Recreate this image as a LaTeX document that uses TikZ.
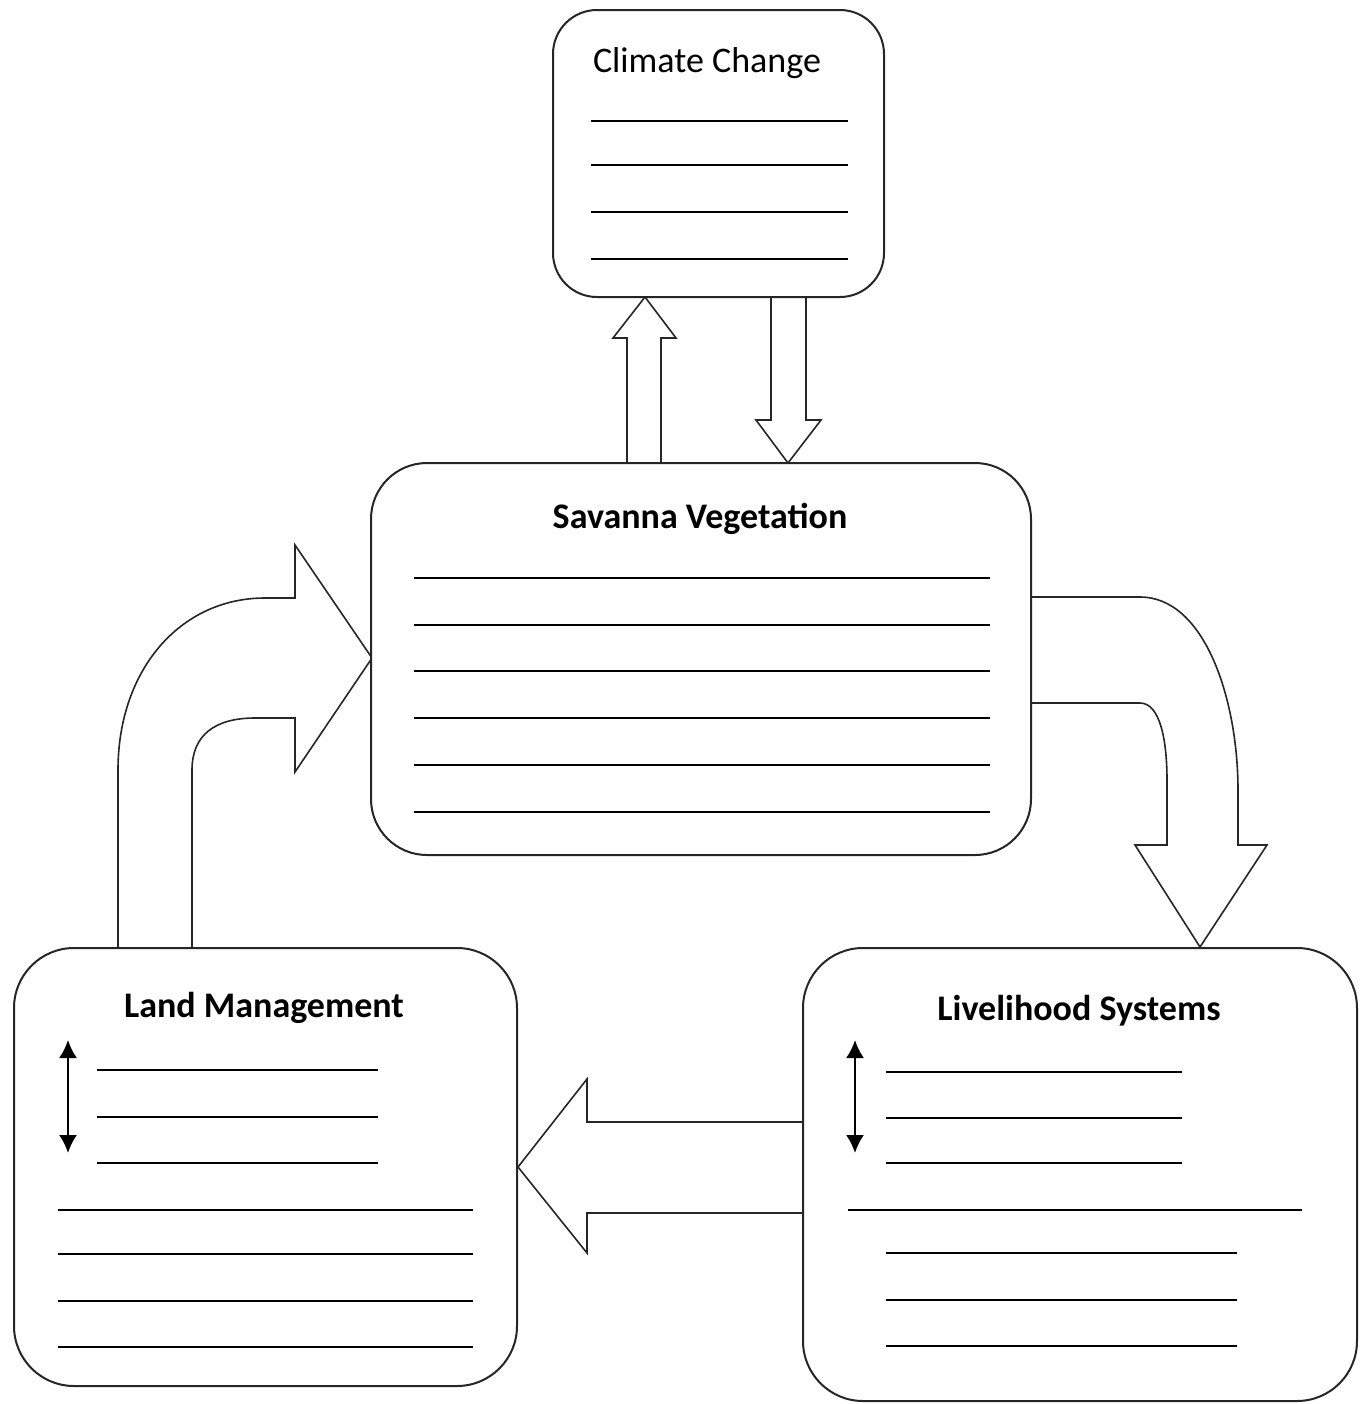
\documentclass[tikz,border=0pt]{standalone}
\usepackage{fontspec}
\setmainfont{Carlito}
\usetikzlibrary{arrows.meta}
\begin{document}
\begin{tikzpicture}[x=0.5pt,y=-0.5pt,
  box/.style={draw=black!85,line width=1pt,fill=white,inner sep=0pt},
  blockarrow/.style={draw=black!85,line width=0.8pt,fill=white,line join=miter},
  blank/.style={line width=1.2pt,black},
  ttl/.style={font=\fontsize{18}{20}\selectfont,anchor=base,inner sep=0pt},
  dbl/.style={line width=1.1pt,{Latex[length=9pt,width=9pt]}-{Latex[length=9pt,width=9pt]}}]
\useasboundingbox (0,0) rectangle (1367,1404);
% block arrows
\draw[blockarrow] (627,463) -- (627,338) -- (613,338) -- (645,297) -- (676,338) -- (661,338) -- (661,463);
\draw[blockarrow] (771,297) -- (771,420) -- (756,420) -- (788,463) -- (821,420) -- (806,420) -- (806,297);
\draw[blockarrow] (118,948) -- (118,770) .. controls (118,670) and (180,598) .. (265,598) -- (295,598) -- (295,545) -- (372,658) -- (295,772) -- (295,718) -- (255,718) .. controls (215,718) and (192,735) .. (192,770) -- (192,948);
\draw[blockarrow] (1031,597) -- (1140,597) .. controls (1205,597) and (1238,700) .. (1238,790) -- (1238,845) -- (1267,845) -- (1200,947) -- (1135,845) -- (1167,845) -- (1167,780) .. controls (1167,740) and (1160,703) .. (1140,703) -- (1031,703);
\draw[blockarrow] (803,1122) -- (587,1122) -- (587,1079) -- (518,1167) -- (587,1253) -- (587,1213) -- (803,1213);
% boxes
\node[box,rounded corners=22pt,minimum width=165.5pt,minimum height=143.5pt] (cc) at (718.5,153.5) {};
\node[box,rounded corners=28pt,minimum width=330pt,minimum height=196pt] (sv) at (701,659) {};
\node[box,rounded corners=30pt,minimum width=251.5pt,minimum height=219pt] (lm) at (265.5,1167) {};
\node[box,rounded corners=30pt,minimum width=277pt,minimum height=226.5pt] (ls) at (1080,1174.5) {};
% titles
\node[ttl] (cct) at (707,72) {Climate Change};
\node[ttl,font=\fontsize{18}{20}\selectfont\bfseries] (svt) at (700,528) {Savanna Vegetation};
\node[ttl,font=\fontsize{18}{20}\selectfont\bfseries] (lmt) at (264,1017) {Land Management};
\node[ttl,font=\fontsize{18}{20}\selectfont\bfseries] (lst) at (1079,1020) {Livelihood Systems};
% blanks
\foreach \y in {121,165,212,259} \draw[blank] (591,\y) -- (848,\y);
\foreach \y in {578,625,671,718,765,812} \draw[blank] (414,\y) -- (990,\y);
\foreach \y in {1070,1117,1163} \draw[blank] (97,\y) -- (378,\y);
\foreach \y in {1210,1254,1301,1347} \draw[blank] (58,\y) -- (473,\y);
\foreach \y in {1072,1118,1163} \draw[blank] (886,\y) -- (1182,\y);
\draw[blank] (848,1210) -- (1302,1210);
\foreach \y in {1253,1300,1346} \draw[blank] (886,\y) -- (1237,\y);
% double arrows
\draw[dbl] (68,1040) -- (68,1153);
\draw[dbl] (855,1040) -- (855,1153);
\end{tikzpicture}
\end{document}
